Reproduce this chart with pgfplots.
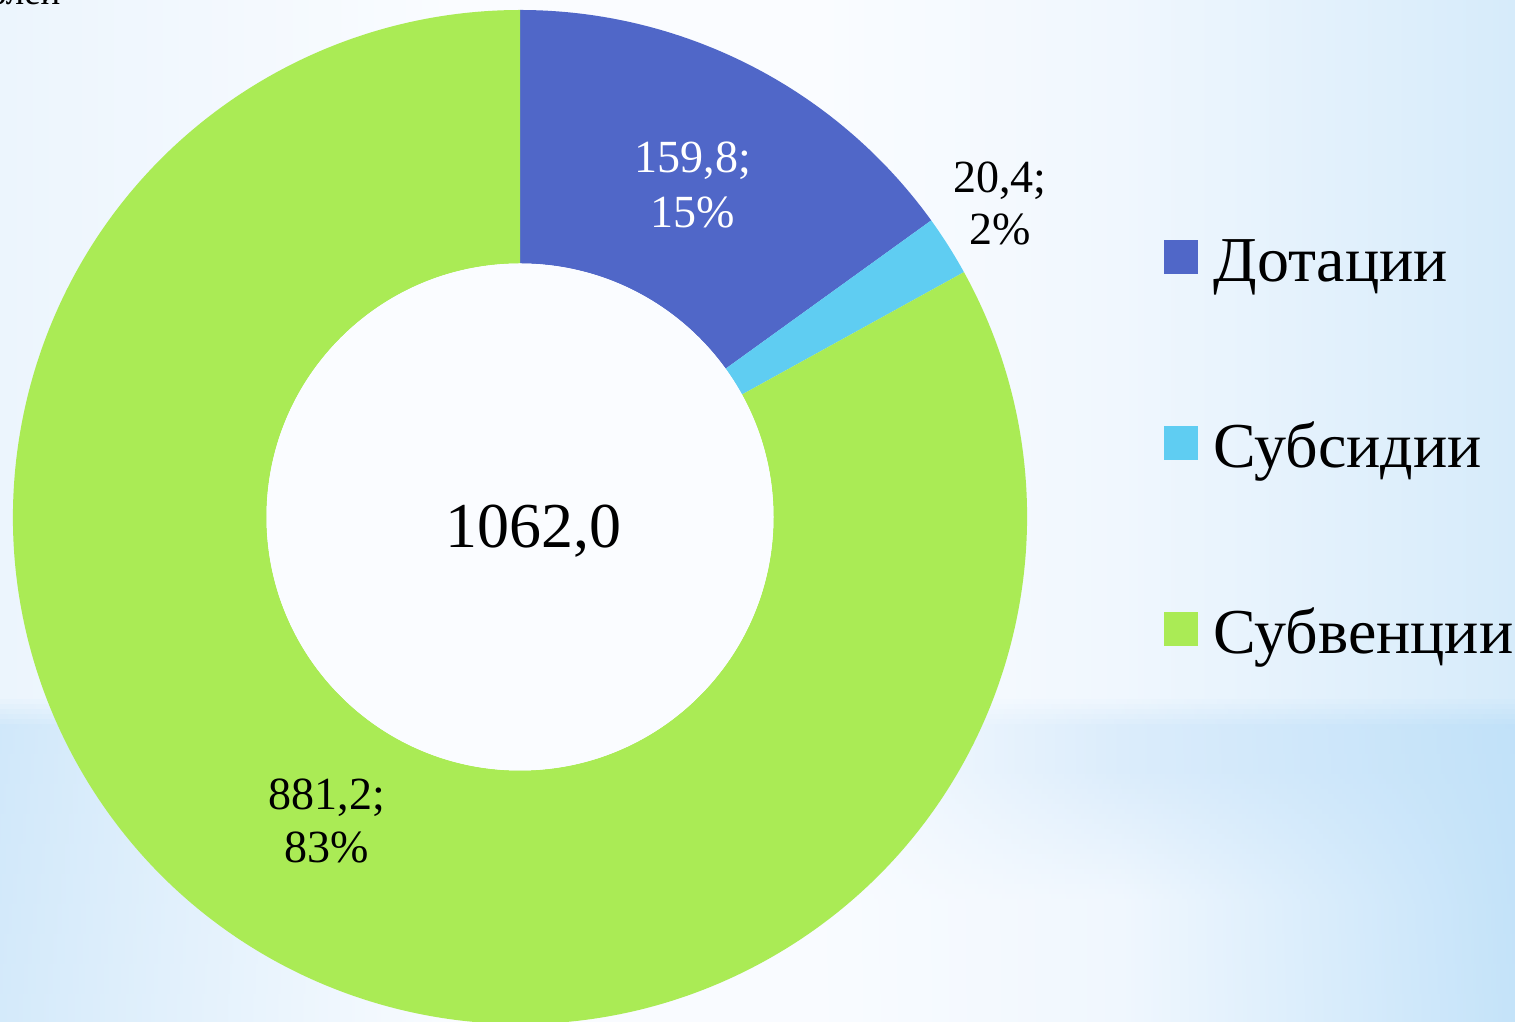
\documentclass[border=0pt]{standalone}
\usepackage{fontspec}
\setmainfont{Liberation Serif}
\usepackage{pgfplots}
\pgfplotsset{compat=1.18}
\usepackage{pgfplotstable}

\definecolor{dotblue}{RGB}{80,103,200}
\definecolor{subcyan}{RGB}{95,205,242}
\definecolor{subgreen}{RGB}{170,235,85}
\definecolor{bgA}{RGB}{236,245,253}
\definecolor{bgB}{RGB}{250,252,255}
\definecolor{bgC}{RGB}{240,247,254}
\definecolor{bgD}{RGB}{214,235,250}
\definecolor{bandL}{RGB}{196,226,248}
\definecolor{bandM}{RGB}{248,251,255}
\definecolor{bandC}{RGB}{205,229,249}
\definecolor{bandR}{RGB}{184,221,248}

\pgfdeclarehorizontalshading{bgshade}{100bp}{color(0bp)=(bgA); color(25bp)=(bgA); color(40bp)=(bgB); color(52bp)=(bgB); color(62bp)=(bgC); color(75bp)=(bgD); color(100bp)=(bgD)}

\pgfplotstableread{
name value
Dotacii 159.8
Subsidii 20.4
Subvencii 881.2
}\budget

\pgfplotstablegetelem{0}{value}\of\budget \let\vA\pgfplotsretval
\pgfplotstablegetelem{1}{value}\of\budget \let\vB\pgfplotsretval
\pgfplotstablegetelem{2}{value}\of\budget \let\vC\pgfplotsretval
\pgfmathsetmacro{\total}{\vA+\vB+\vC}
\pgfmathsetmacro{\aA}{90-360*(\vA/\total)}
\pgfmathsetmacro{\aB}{\aA-360*(\vB/\total)}
\pgfmathsetmacro{\aC}{\aB-360*(\vC/\total)}

\newcommand{\ring}[3]{%
  \fill[#1] (axis cs:{cos(#2)},{sin(#2)}) arc[start angle=#2, end angle=#3, radius=1]
    -- (axis cs:{0.5*cos(#3)},{0.5*sin(#3)}) arc[start angle=#3, end angle=#2, radius=0.5] -- cycle;}

\newcommand{\labfont}{\fontsize{13.1pt}{15.7pt}\selectfont}
\newcommand{\bigfont}{\fontsize{18.2pt}{21.8pt}\selectfont}

\begin{document}
\begin{tikzpicture}
\useasboundingbox (0,0) rectangle (15.15,10.22);
\shade[shading=bgshade] (0,0) rectangle (15.15,10.22);
% soft bluish band in the lower part of the backdrop (opaque overlapping strips)
\foreach \k in {0,...,64}{%
  \pgfmathsetmacro{\py}{700+5*\k}%
  \pgfmathtruncatemacro{\oE}{\py<725 ? 70*((\py-695)/30) : 70-10*((\py-725)/297)}%
  \pgfmathtruncatemacro{\oM}{\py<725 ? 60*((\py-695)/30) : (\py<770 ? 60 : max(0,60-60*((\py-770)/130)))}%
  \colorlet{sA}{bandL!\oE!bgA}%
  \colorlet{sB}{bandM!\oE!bgB}%
  \colorlet{sC}{bandC!\oM!bgC}%
  \colorlet{sD}{bandR!\oE!bgD}%
  \pgfdeclarehorizontalshading{strip\k}{100bp}{color(0bp)=(sA); color(25bp)=(sA); color(40bp)=(sB); color(52bp)=(sB); color(62bp)=(sC); color(75bp)=(sD); color(100bp)=(sD)}%
  \shade[shading=strip\k] (0,{(1022-\py-6)/100}) rectangle (15.15,{(1022-\py)/100});
}
\begin{axis}[
  at={(5.20cm,5.05cm)}, anchor=center,
  scale only axis, width=10.14cm, height=10.14cm,
  xmin=-1, xmax=1, ymin=-1, ymax=1,
  hide axis, clip=false,
  legend cell align=left,
  legend style={at={(1.1351,0.7811)}, anchor=north west, draw=none, fill=none,
    inner sep=0pt, outer sep=0pt, row sep=1.21cm, column sep=0.15cm,
    font=\bigfont,
    nodes={inner sep=0pt, text height=0.5cm, text depth=0.15cm}},
]
\ring{dotblue}{90}{\aA}
\ring{subcyan}{\aA}{\aB}
\ring{subgreen}{\aB}{\aC}
\fill[bgB] (axis cs:0,0) circle[radius=0.5];

\addlegendimage{legend image code/.code={\fill[dotblue] (0cm,-0.09cm) rectangle (0.33cm,0.24cm);}}
\addlegendentry{Дотации}
\addlegendimage{legend image code/.code={\fill[subcyan] (0cm,-0.09cm) rectangle (0.33cm,0.24cm);}}
\addlegendentry{Субсидии}
\addlegendimage{legend image code/.code={\fill[subgreen] (0cm,-0.09cm) rectangle (0.33cm,0.24cm);}}
\addlegendentry{Субвенции}

\node[anchor=base, font=\labfont, text=white] at (axis cs:0.3412,0.6785) {159,8;};
\node[anchor=base, font=\labfont, text=white] at (axis cs:0.3412,0.5700) {15\%};
\node[anchor=base, font=\labfont] at (axis cs:0.9465,0.6410) {20,4;};
\node[anchor=base, font=\labfont] at (axis cs:0.9465,0.5365) {2\%};
\node[anchor=base, font=\labfont] at (axis cs:-0.3807,-0.5779) {881,2;};
\node[anchor=base, font=\labfont] at (axis cs:-0.3807,-0.6824) {83\%};
\node[anchor=base, font=\bigfont] at (axis cs:0.0266,-0.0611) {1062,0};
\node[anchor=base east, font=\fontsize{10.5pt}{12.6pt}\selectfont] at (axis cs:-0.882,1.0099) {млн. рублей};
\end{axis}
\end{tikzpicture}
\end{document}
